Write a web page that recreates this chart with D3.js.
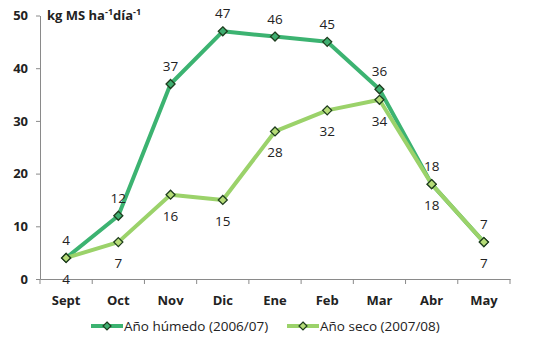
<!DOCTYPE html>
<html><head><meta charset="utf-8">
<script src="https://cdn.jsdelivr.net/npm/d3@7"></script>
<style>body{margin:0;background:#fff}svg{display:block}</style>
</head><body>
<script>
const categories = ["Sept","Oct","Nov","Dic","Ene","Feb","Mar","Abr","May"];
const humedo = [4,12,37,47,46,45,36,18,7];
const seco = [4,7,16,15,28,32,34,18,7];
const yTicks = [0,10,20,30,40,50];
const seriesNames = ["Año húmedo (2006/07)","Año seco (2007/08)"];

const W=545,H=345;
const svg=d3.select("body").append("svg").attr("width",W).attr("height",H);
const font="'Open Sans', 'Liberation Sans', sans-serif";
const x=d3.scaleBand().domain(categories).range([40,510]);
const y=d3.scaleLinear().domain([0,50]).range([279,15.5]);
const cx=d=>x(d)+x.bandwidth()/2;

const axisColor="#8a8a8a";
const ya=svg.append("g").attr("transform","translate(40,0)").call(d3.axisLeft(y).tickValues(yTicks).tickSize(4).tickSizeOuter(0));
ya.select(".domain").attr("stroke",axisColor);
ya.selectAll(".tick line").attr("stroke",axisColor);
ya.selectAll(".tick text").attr("font-family",font).attr("font-weight","bold").attr("font-size",13).attr("fill","#222").attr("x",-12);

const xa=svg.append("g").attr("transform","translate(0,279)").call(d3.axisBottom(x).tickSize(0).tickSizeOuter(0));
xa.select(".domain").attr("stroke",axisColor);
xa.selectAll(".tick text").attr("font-family",font).attr("font-weight","bold").attr("font-size",13).attr("fill","#222").attr("dy","1.75em");
const bounds=categories.map(c=>x(c)).concat([x(categories[categories.length-1])+x.bandwidth()]);
svg.append("g").selectAll("line").data(bounds).join("line")
  .attr("x1",d=>d).attr("x2",d=>d).attr("y1",279).attr("y2",284).attr("stroke",axisColor);

const t=svg.append("text").attr("x",47).attr("y",20).attr("font-family",font).attr("font-weight","bold").attr("font-size",13).attr("fill","#222");
t.append("tspan").text("kg MS ha");
t.append("tspan").text("-1").attr("font-size",9).attr("dy",-5);
t.append("tspan").text("día").attr("dy",5);
t.append("tspan").text("-1").attr("font-size",9).attr("dy",-5);

const cols=["#3cb371","#9bd26a"];
const fills=["#3fae70","#b6dc78"];
const data=[humedo,seco];
const line=d3.line().x((d,i)=>cx(categories[i])).y(d=>y(d));
function diamondPath(s){return `M0,${-s}L${s},0L0,${s}L${-s},0Z`;}

data.forEach((vals,k)=>{
  svg.append("path").datum(vals).attr("d",line).attr("fill","none").attr("stroke",cols[k]).attr("stroke-width",4).attr("stroke-linejoin","round");
});
data.forEach((vals,k)=>{
  svg.append("g").selectAll("path").data(vals).join("path")
    .attr("transform",(d,i)=>`translate(${cx(categories[i])},${y(d)})`)
    .attr("d",diamondPath(4.5)).attr("fill",fills[k]).attr("stroke","#1e3d1e").attr("stroke-width",1.3);
});
svg.append("g").selectAll("text").data(humedo).join("text")
  .attr("x",(d,i)=>cx(categories[i])).attr("y",d=>y(d)-13)
  .attr("text-anchor","middle").attr("font-family",font).attr("font-size",13.5).attr("fill","#222").text(d=>d);
svg.append("g").selectAll("text").data(seco).join("text")
  .attr("x",(d,i)=>cx(categories[i])).attr("y",d=>y(d)+26)
  .attr("text-anchor","middle").attr("font-family",font).attr("font-size",13.5).attr("fill","#222").text(d=>d);

const legX=[91,287];
seriesNames.forEach((n,k)=>{
  const g=svg.append("g").attr("transform",`translate(${legX[k]},326)`);
  g.append("line").attr("x1",0).attr("x2",32).attr("stroke",cols[k]).attr("stroke-width",4);
  g.append("path").attr("transform","translate(16,0)").attr("d",diamondPath(4)).attr("fill",fills[k]).attr("stroke","#1e3d1e").attr("stroke-width",1.2);
  g.append("text").attr("x",33).attr("y",5).attr("font-family",font).attr("font-size",13.5).attr("fill","#222").text(n);
});
</script>
</body></html>
